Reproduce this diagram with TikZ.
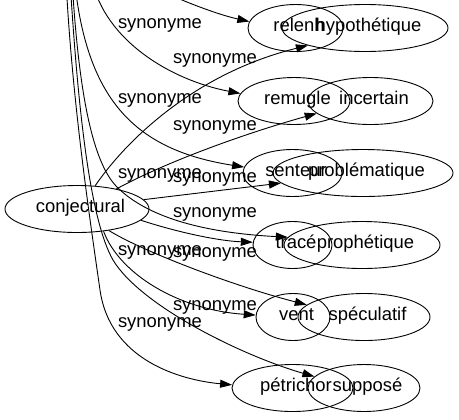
\documentclass[tikz,border=0pt]{standalone}
\usepackage{fontspec}
\setmainfont{Liberation Sans}
\usetikzlibrary{shapes.geometric,arrows.meta}
\begin{document}
\begin{tikzpicture}[x=1bp,y=-1bp,
  font=\fontsize{18.5}{22}\selectfont,
  word/.style={ellipse,draw,line width=0.9bp,inner sep=0pt,minimum height=47bp,
    text height=1.0em,text depth=0.2em,execute at begin node={\hspace*{7bp}}},
  lbl/.style={anchor=base,inner sep=0pt},
  syn/.style={-{Triangle[length=12bp,width=8bp]},line width=0.9bp}]
\useasboundingbox (0,0) rectangle (459,419);
\clip (0,0) rectangle (459,419);
% nodes
\node[word,minimum width=144bp] (conj) at (77,209) {conjectural};
\node[word,minimum width=95bp] (relenh) at (295.5,28) {relenh};
\node[word,minimum width=166bp] (hypo) at (365,28) {hypothétique};
\node[word,minimum width=112bp] (remugle) at (294,101) {remugle};
\node[word,minimum width=125bp] (incert) at (370.5,101) {incertain};
\node[word,minimum width=99bp] (senteur) at (292.5,173) {senteur};
\node[word,minimum width=180bp] (proble) at (363,173) {problématique};
\node[word,minimum width=79bp] (trace) at (292.5,245) {tracé};
\node[word,minimum width=156bp] (prophe) at (362,245) {prophétique};
\node[word,minimum width=74bp] (vent) at (293,317) {vent};
\node[word,minimum width=132bp] (specu) at (364,317) {spéculatif};
\node[word,minimum width=121bp] (petri) at (292.5,388) {pétrichor};
\node[word,minimum width=112bp] (suppo) at (364,388) {supposé};
% labels
\node[lbl] (l1) at (160,28) {synonyme};
\node[lbl] (l2) at (215,63) {synonyme};
\node[lbl] (l3) at (160,103) {synonyme};
\node[lbl] (l4) at (215,130) {synonyme};
\node[lbl] (l5) at (160,178) {synonyme};
\node[lbl] (l6) at (215,182) {synonyme};
\node[lbl] (l7) at (215,217) {synonyme};
\node[lbl] (l8) at (160,255) {synonyme};
\node[lbl] (l9) at (215,257) {synonyme};
\node[lbl] (l10) at (215,310) {synonyme};
\node[lbl] (l11) at (160,327) {synonyme};
% free ends above the picture and waypoints
\coordinate (sA) at (66,-20);
\coordinate (sB) at (70,-20);
\coordinate (sC) at (72,-20);
\coordinate (s3) at (75,-15);
\coordinate (s2) at (92,-20);
\coordinate (s1) at (130,-25);
\coordinate (mA) at (100,290);
\coordinate (mB) at (113,260);
\coordinate (mC) at (117,187);
% edges
\draw[syn] (s1) .. controls (165,-5) and (215,14) .. (relenh.172);
\draw[syn] (conj.52) .. controls (130,135) and (200,72) .. (hypo.197);
\draw[syn] (s2) .. controls (105,40) and (170,80) .. (remugle.172);
\draw[syn] (conj.27) .. controls (170,160) and (250,132) .. (incert.193);
\draw[syn] (s3) .. controls (88,100) and (135,150) .. (senteur.173);
\draw[syn] (conj.8) -- (proble.187);
\draw[syn] (conj.350) .. controls (180,233) and (220,241) .. (trace.176);
\draw[syn] (sC) .. controls (78,80) and (90,160) .. (mC) .. controls (142,212) and (190,232) .. (prophe.174);
\draw[syn] (conj.320) .. controls (120,275) and (180,310) .. (vent.177);
\draw[syn] (conj.326) .. controls (140,250) and (230,285) .. (specu.168);
\draw[syn] (sA) .. controls (72,100) and (90,220) .. (mA) .. controls (110,360) and (180,380) .. (petri.177);
\draw[syn] (sB) .. controls (78,110) and (90,220) .. (mB) .. controls (140,305) and (240,355) .. (suppo.167);
\end{tikzpicture}
\end{document}
